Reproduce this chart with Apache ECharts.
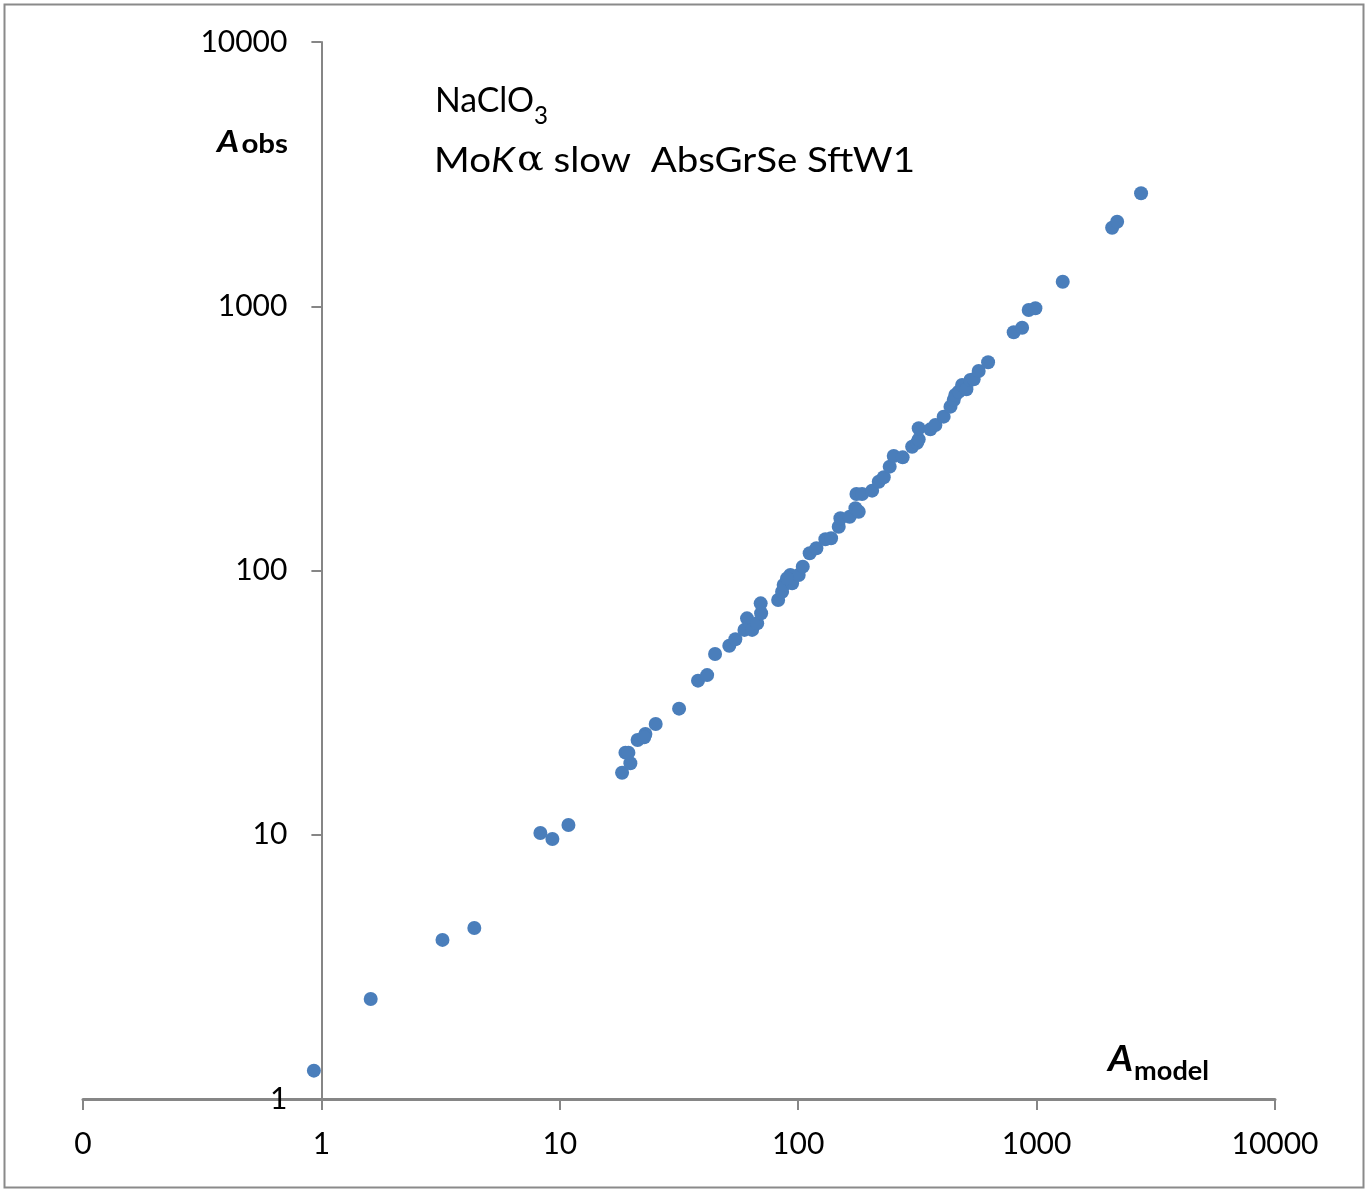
<!DOCTYPE html>
<html>
<head>
<meta charset="utf-8">
<script src="https://cdn.jsdelivr.net/npm/echarts@6/dist/echarts.min.js"></script>
<style>
  html, body { margin: 0; padding: 0; background: #fff; }
  #chart { width: 1371px; height: 1189px; }
</style>
</head>
<body>
<div id="chart"></div>
<script>
// ---- data ----
const xTickValues = [0.1, 1, 10, 100, 1000, 10000];
const xTickLabels = ['0', '1', '10', '100', '1000', '10000'];
const yTickValues = [1, 10, 100, 1000, 10000];
const yTickLabels = ['1', '10', '100', '1000', '10000'];

const aModel = [
  0.93, 1.61, 3.22, 4.38, 8.29, 9.31, 10.87,
  18.25, 19.77, 18.85, 19.4, 21.2, 22.86, 22.6, 25.25, 31.65,
  38.0, 41.5, 44.8, 51.4, 54.5, 61.0, 59.5, 64.1, 67.3, 69.9, 69.6,
  82.4, 85.6, 86.9, 92.7, 94.3, 100.5, 104.5, 89.8,
  111.7, 119.2, 130.0, 137.4, 147.9, 150.3, 164.4, 173.8, 179.4, 175.5, 185.3,
  204.2, 217.7, 228.5, 242.0, 251.6, 274.3, 300.5, 315.3, 320.2, 320.2,
  358.4, 376.3, 407.5, 435.3, 449, 456, 471.3, 487, 507.7, 527.6, 544.6, 571.5, 626,
  801.6, 869.4, 926.6, 988.5, 1287, 2074, 2177, 2743
];
const aObs = [
  1.28, 2.39, 4.00, 4.44, 10.15, 9.64, 10.88,
  17.17, 18.64, 20.45, 20.45, 22.84, 24.06, 23.4, 26.25, 30.0,
  38.3, 40.2, 48.3, 51.9, 54.9, 65.9, 59.6, 59.6, 63.1, 68.9, 75.1,
  77.3, 83.1, 88.1, 96.1, 89.4, 96.1, 103.4, 93.4,
  116.2, 121.4, 131.3, 132.4, 146.5, 157.6, 159.8, 172.0, 166.9, 194.8, 194.8,
  200.5, 216.8, 225.3, 247.2, 271.3, 268.0, 294.1, 304.5, 313.6, 345.2,
  342.1, 355.3, 382.1, 416.9, 441.9, 461.6, 475.0, 503.6, 485, 526, 529, 568.9, 613.6,
  796.9, 829.6, 967.6, 982.7, 1238, 1983, 2089, 2676
];

const titleLine1 = 'NaClO';
const titleLine1Sub = '3';
const titleLine2Parts = ['Mo', 'K', 'α', ' slow  AbsGrSe SftW1'];
const yName = ['A', 'obs'];
const xName = ['A', 'model'];

// ---- layout ----
const W = 1371, H = 1189;
const grid = { left: 83, right: 96, top: 42, bottom: 90 };
const gridW = W - grid.left - grid.right;
const axisColor = '#868686';
const dotColor = '#4A7EBB';
const FONT = 'Lato, "Open Sans", "Liberation Sans", sans-serif';

const mctx = document.createElement('canvas').getContext('2d');
function measure(text, font) { mctx.font = font; return mctx.measureText(text).width; }

// a run of text segments laid out left to right, each with its own baseline,
// optionally stretched horizontally to a target width
function textRun(x, segs, targetWidth) {
  const children = [];
  let cx = 0;
  segs.forEach(s => {
    children.push({
      type: 'text', x: cx, y: s.baseline - 0.36 * s.size, z: 10,
      style: { text: s.text, font: s.font, fill: '#000', align: 'left', verticalAlign: 'middle' }
    });
    cx += measure(s.text, s.font) + (s.gap || 0);
  });
  const sx = targetWidth ? targetWidth / cx : 1;
  return { type: 'group', x: x, y: 0, scaleX: sx, scaleY: 1, children: children };
}

const graphics = [];
graphics.push({
  type: 'rect', z: 0,
  shape: { x: 4.5, y: 4.5, width: 1359, height: 1183 },
  style: { fill: 'none', stroke: '#8a8a8a', lineWidth: 2 }
});
// title block
graphics.push(textRun(435, [
  { text: titleLine1, font: '35px ' + FONT, size: 35, baseline: 113 },
  { text: titleLine1Sub, font: '25px ' + FONT, size: 25, baseline: 125 }
], 113));
graphics.push(textRun(434, [
  { text: titleLine2Parts[0], font: '35px ' + FONT, size: 35, baseline: 173 },
  { text: titleLine2Parts[1], font: 'italic 35px ' + FONT, size: 35, baseline: 173, gap: 2 },
  { text: titleLine2Parts[2], font: '36px "DejaVu Serif", serif', size: 35, baseline: 173 },
  { text: titleLine2Parts[3], font: '35px ' + FONT, size: 35, baseline: 173 }
], 481));
// axis names
graphics.push(textRun(217, [
  { text: yName[0], font: 'italic bold 30px ' + FONT, size: 30, baseline: 153, gap: 2 },
  { text: yName[1], font: 'bold 26px ' + FONT, size: 26, baseline: 154 }
], 71));
graphics.push(textRun(1108, [
  { text: xName[0], font: 'italic bold 37px ' + FONT, size: 37, baseline: 1072, gap: 1 },
  { text: xName[1], font: 'bold 26px ' + FONT, size: 26, baseline: 1081 }
], 101));

function fmt(vals, labels) {
  return function (v) {
    let best = 0, bd = Infinity;
    vals.forEach((t, i) => { const d = Math.abs(Math.log10(v) - Math.log10(t)); if (d < bd) { bd = d; best = i; } });
    return labels[best];
  };
}

const chart = echarts.init(document.getElementById('chart'), null, { renderer: 'canvas' });
chart.setOption({
  backgroundColor: '#fff',
  animation: false,
  grid: Object.assign({ containLabel: false, outerBoundsMode: 'none' }, grid),
  xAxis: {
    type: 'log', logBase: 10,
    min: xTickValues[0], max: xTickValues[xTickValues.length - 1],
    splitLine: { show: false },
    axisLine: { show: true, onZero: false, lineStyle: { color: axisColor, width: 3 } },
    axisTick: { show: true, inside: false, length: 11, lineStyle: { color: axisColor, width: 2 } },
    minorTick: { show: false },
    axisLabel: {
      show: true, margin: 30, color: '#000', fontSize: 30, fontFamily: FONT,
      showMinLabel: true, showMaxLabel: true, hideOverlap: false,
      formatter: fmt(xTickValues, xTickLabels)
    }
  },
  yAxis: {
    type: 'log', logBase: 10,
    min: yTickValues[0], max: yTickValues[yTickValues.length - 1],
    offset: -gridW / 5,
    splitLine: { show: false },
    axisLine: { show: true, onZero: false, lineStyle: { color: axisColor, width: 2 } },
    axisTick: { show: true, inside: false, length: 10, lineStyle: { color: axisColor, width: 2 } },
    minorTick: { show: false },
    axisLabel: {
      show: true, margin: 34, color: '#000', fontSize: 30, fontFamily: FONT,
      showMinLabel: true, showMaxLabel: true, hideOverlap: false,
      formatter: fmt(yTickValues, yTickLabels)
    }
  },
  series: [{
    type: 'scatter',
    data: aModel.map((x, i) => [x, aObs[i]]),
    symbol: 'circle',
    symbolSize: 14,
    itemStyle: { color: dotColor, opacity: 1 },
    z: 5
  }],
  graphic: graphics
});
</script>
</body>
</html>
